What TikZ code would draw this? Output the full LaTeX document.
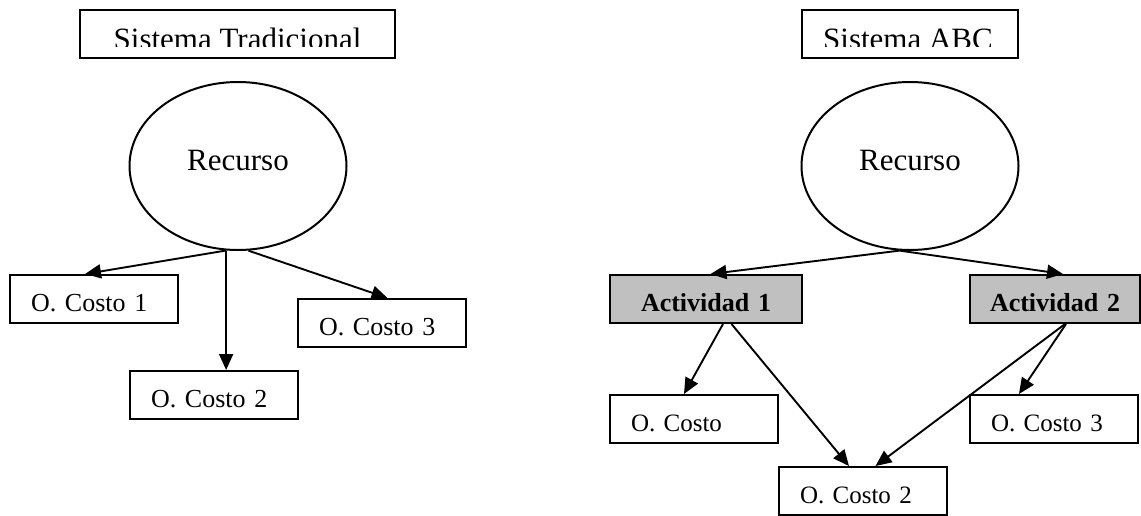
\documentclass[tikz,border=0pt]{standalone}
\usepackage{fontspec}
\setmainfont{Liberation Serif}
\usepackage{xcolor}
\usetikzlibrary{shapes.geometric,arrows.meta}
\definecolor{actgray}{HTML}{C0C0C0}
\tikzset{titlebox/.style={draw,line width=2.2pt,minimum height=48pt,inner sep=0pt},
    titletext/.style={anchor=base,inner sep=0pt,font=\fontsize{31}{36}\selectfont},
    resource/.style={draw,ellipse,line width=2pt,minimum width=217pt,minimum height=168pt,
        inner sep=0pt,text height=20pt,text depth=12pt,font=\fontsize{31}{36}\selectfont},
    costbox/.style={draw,rectangle,line width=2pt,anchor=north west,minimum height=48pt,
        inner xsep=21pt,inner ysep=0pt,text width=126pt,align=left,
        text height=26pt,text depth=2pt,font=\fontsize{26}{30}\selectfont},
    actbox/.style={draw,rectangle,fill=actgray,line width=2pt,anchor=north west,
        minimum height=48pt,inner xsep=0pt,inner ysep=0pt,text width=#1,align=center,
        text height=26pt,text depth=2pt,font=\fontsize{26}{30}\selectfont\bfseries},
    flow/.style={-{Triangle[length=16pt,width=14pt]},line width=1.9pt}}
\begin{document}
\begin{tikzpicture}[x=1pt,y=-1pt]
\useasboundingbox (0,0) rectangle (1141,515);
% titles
\begin{scope}
\clip (80,10) rectangle (395,46.5);
\node[titletext] (s1) at (237.5,49) {Sistema Tradicional};
\end{scope}
\node[titlebox,minimum width=315pt] (t1) at (237.5,34) {};
\begin{scope}
\clip (802,10) rectangle (1018,46.5);
\node[titletext] (s2) at (908,49) {Sistema ABC};
\end{scope}
\node[titlebox,minimum width=216pt] (t2) at (910,34) {};
% sistema tradicional
\node[resource] (rl) at (238,166) {Recurso};
\node[costbox] (oc1) at (9,274) {O. Costo 1};
\node[costbox] (oc2) at (129,370) {O. Costo 2};
\node[costbox] (oc3) at (297,298) {O. Costo 3};
\draw[flow] (rl.-98) -- ([xshift=-9pt]oc1.north);
\draw[flow] (rl.-98) -- (rl.-98 |- oc2.north);
\draw[flow] (rl.-83) -- ([xshift=5.5pt]oc3.north);
% sistema ABC
\node[resource] (rr) at (910,166) {Recurso};
\node[actbox=192pt] (a1) at (609,274) {Actividad 1};
\node[actbox=170pt] (a2) at (969,274) {Actividad 2};
\node[costbox,font=\fontsize{25}{30}\selectfont] (oc4) at (609,394) {O. Costo};
\node[costbox,font=\fontsize{25}{30}\selectfont] (oc5) at (778,466) {O. Costo 2};
\node[costbox,font=\fontsize{25}{30}\selectfont] (oc6) at (969,394) {O. Costo 3};
\draw[flow] (rr.-97) -- ([xshift=4.5pt]a1.north);
\draw[flow] (rr.-97) -- ([xshift=8pt]a2.north);
\draw[flow] ([xshift=17pt]a1.south) -- ([xshift=-10pt]oc4.north);
\draw[flow] ([xshift=25.5pt]a1.south) -- ([xshift=-14pt]oc5.north);
\draw[flow] ([xshift=10pt]a2.south) -- ([xshift=12.5pt]oc5.north);
\draw[flow] ([xshift=11pt]a2.south) -- ([xshift=-35pt]oc6.north);
\end{tikzpicture}
\end{document}
